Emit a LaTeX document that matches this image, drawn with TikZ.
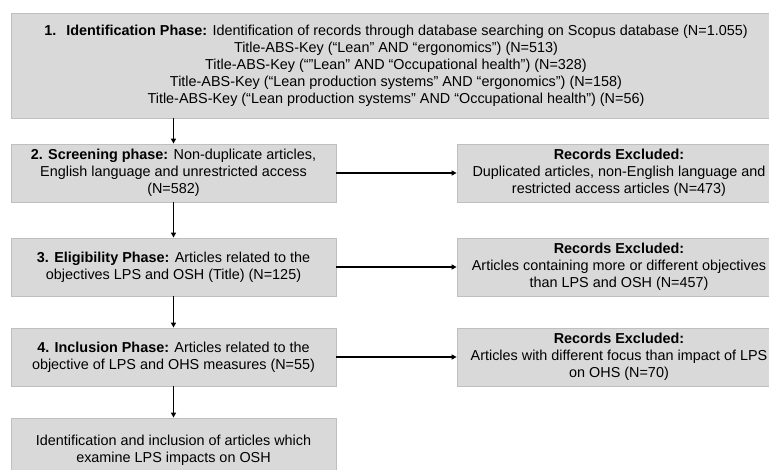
\documentclass[tikz,border=0pt]{standalone}
\usepackage{fontspec}
\setmainfont{Liberation Sans}
\usetikzlibrary{arrows.meta, positioning}
\definecolor{cfill}{HTML}{D9D9D9}
\definecolor{cedge}{HTML}{BFBFBF}
\tikzset{
  every picture/.style={font=\fontsize{14.4}{17}\selectfont, line width=0.8pt},
  box/.style={draw=cedge, fill=cfill, align=center, inner sep=0pt, minimum width=#1, minimum height=58pt},
  box/.default=325pt,
  arrow/.style={-{Triangle[length=5pt, width=5pt]}, draw=black, line width=1.3pt},
}

\begin{document}
\begin{tikzpicture}[x=1pt, y=-1pt]
  \clip (0,0) rectangle (769,470);
  \node[box=770pt, minimum height=105pt] (ident) at (396,65.5) {\textbf{1.\hspace{0.7em}Identification Phase:} Identification of records through database searching on Scopus database (N=1.055)\\
    Title-ABS-Key (“Lean” AND “ergonomics”) (N=513)\\
    Title-ABS-Key (“”Lean” AND “Occupational health”) (N=328)\\
    Title-ABS-Key (“Lean production systems” AND “ergonomics”) (N=158)\\
    Title-ABS-Key (“Lean production systems” AND “Occupational health”) (N=56)};
  \node[box] (screen) at (173.5,173) {\textbf{2. Screening phase:} Non-duplicate articles,\\English language and unrestricted access\\(N=582)};
  \node[box] (elig) at (173.5,267) {\textbf{3. Eligibility Phase:} Articles related to the\\objectives LPS and OSH (Title) (N=125)};
  \node[box] (incl) at (173.5,357) {\textbf{4. Inclusion Phase:} Articles related to the\\objective of LPS and OHS measures (N=55)};
  \node[box, minimum height=64pt] (final) at (173.5,450) {Identification and inclusion of articles which\\examine LPS impacts on OSH};
  \node[box=324pt] (excl1) at (619,173) {\textbf{Records Excluded:}\\Duplicated articles, non-English language and\\restricted access articles (N=473)};
  \node[box=324pt] (excl2) at (619,267) {\textbf{Records Excluded:}\\Articles containing more or different objectives\\than LPS and OSH (N=457)};
  \node[box=324pt] (excl3) at (619,357) {\textbf{Records Excluded:}\\Articles with different focus than impact of LPS\\on OHS (N=70)};
  % flow down the left side
  \draw[arrow] (screen.north |- ident.south) -- (screen.north);
  \draw[arrow] (screen) -- (elig);
  \draw[arrow] (elig) -- (incl);
  \draw[arrow] (incl) -- (final);
  % exclusions
  \draw[arrow] (screen) -- (excl1);
  \draw[arrow] (elig) -- (excl2);
  \draw[arrow] (incl) -- (excl3);
\end{tikzpicture}
\end{document}
